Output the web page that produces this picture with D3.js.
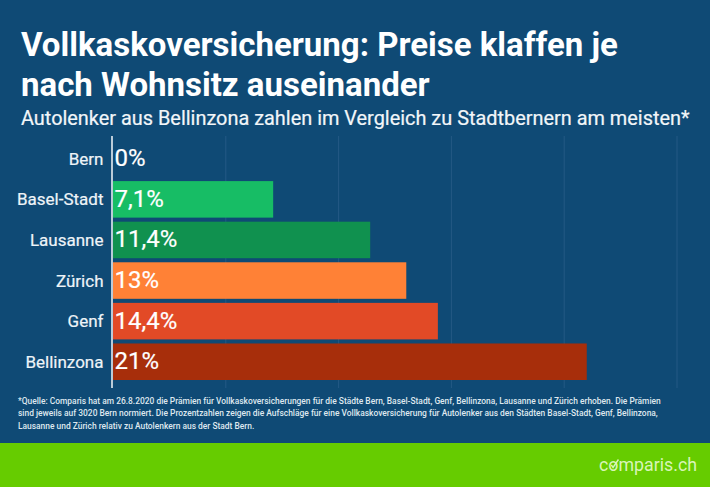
<!DOCTYPE html>
<html><head><meta charset="utf-8">
<script src="https://cdn.jsdelivr.net/npm/d3@7"></script>
<style>html,body{margin:0;padding:0;background:#0f4a75}svg{display:block}text{font-family:Roboto,sans-serif}</style>
</head><body><svg id="c" width="710" height="487"></svg>
<script>
const categories=["Bern","Basel-Stadt","Lausanne","Zürich","Genf","Bellinzona"];
const values=[0,7.1,11.4,13,14.4,21];
const valueLabels=["0%","7,1%","11,4%","13%","14,4%","21%"];
const barColors=["#17bd65","#17bd65","#10914f","#ff8136","#e24a26","#a72e0b"];
const gridTicks=[5,10,15,20,25];
const titleLines=["Vollkaskoversicherung: Preise klaffen je","nach Wohnsitz auseinander"];
const subtitle="Autolenker aus Bellinzona zahlen im Vergleich zu Stadtbernern am meisten*";
const noteLines=["*Quelle: Comparis hat am 26.8.2020 die Prämien für Vollkaskoversicherungen für die Städte Bern, Basel-Stadt, Genf, Bellinzona, Lausanne und Zürich erhoben. Die Prämien",
"sind jeweils auf 3020 Bern normiert. Die Prozentzahlen zeigen die Aufschläge für eine Vollkaskoversicherung für Autolenker aus den Städten Basel-Stadt, Genf, Bellinzona,",
"Lausanne und Zürich relativ zu Autolenkern aus der Stadt Bern."];

const svg=d3.select("#c");
svg.append("rect").attr("width",710).attr("height",487).attr("fill","#0f4a75");
const x=d3.scaleLinear().domain([0,25]).range([113,677]);
const y=d3.scaleBand().domain(categories).range([140.5,380]).paddingInner(0.1);

svg.append("g").selectAll("line").data(gridTicks).join("line")
 .attr("x1",d=>x(d)).attr("x2",d=>x(d)).attr("y1",136).attr("y2",388)
 .attr("stroke","#245985").attr("stroke-width",1);

svg.append("g").selectAll("rect").data(categories).join("rect")
 .attr("x",x(0)).attr("y",d=>y(d)).attr("height",y.bandwidth())
 .attr("width",(d,i)=>x(values[i])-x(0)).attr("fill",(d,i)=>barColors[i]);

svg.append("line").attr("x1",112).attr("x2",112).attr("y1",136).attr("y2",388)
 .attr("stroke","#f4f7fa").attr("stroke-width",1.5);

svg.append("g").selectAll("text").data(categories).join("text")
 .attr("x",103.5).attr("y",d=>y(d)+y.bandwidth()/2+6).attr("text-anchor","end")
 .attr("fill","#eef4f8").attr("stroke","#eef4f8").attr("stroke-width",0.2)
 .attr("font-size",17).attr("font-weight",400).text(d=>d);

svg.append("g").selectAll("text").data(valueLabels).join("text")
 .attr("x",114.5).attr("y",(d,i)=>y(categories[i])+y.bandwidth()/2+7.5)
 .attr("fill","#fff").attr("stroke","#fff").attr("stroke-width",0.2)
 .attr("font-size",24).attr("font-weight",400).text(d=>d);

svg.append("g").selectAll("text").data(titleLines).join("text")
 .attr("x",21).attr("y",(d,i)=>55.5+i*40.5).attr("fill","#fff")
 .attr("font-size",33).attr("font-weight",700).text(d=>d);

svg.append("text").attr("x",21).attr("y",125).attr("fill","#f2f6f9").attr("stroke","#f2f6f9").attr("stroke-width",0.2)
 .attr("font-size",19.9).attr("font-weight",400).text(subtitle);

svg.append("g").selectAll("text").data(noteLines).join("text")
 .attr("x",18).attr("y",(d,i)=>403.5+i*12.7).attr("fill","#dfe8ef")
 .attr("font-size",8.42).attr("font-weight",500).text(d=>d);

svg.append("rect").attr("y",443).attr("width",710).attr("height",44).attr("fill","#66cc00");
const logo=svg.append("text").attr("x",697).attr("y",470.5).attr("text-anchor","end")
 .attr("fill","#d9f5b8").attr("font-size",17.8).attr("font-weight",400).text("comparis.ch");
const n=logo.node(), a=n.getStartPositionOfChar(1).x, b=n.getEndPositionOfChar(1).x, w=b-a;
svg.append("path").attr("fill","none").attr("stroke","#d9f5b8").attr("stroke-width",1.4)
 .attr("d",d3.line()([[a+w*0.3,465],[a+w*0.47,467.5],[a+w*1.0,459.5]]));
</script></body></html>
